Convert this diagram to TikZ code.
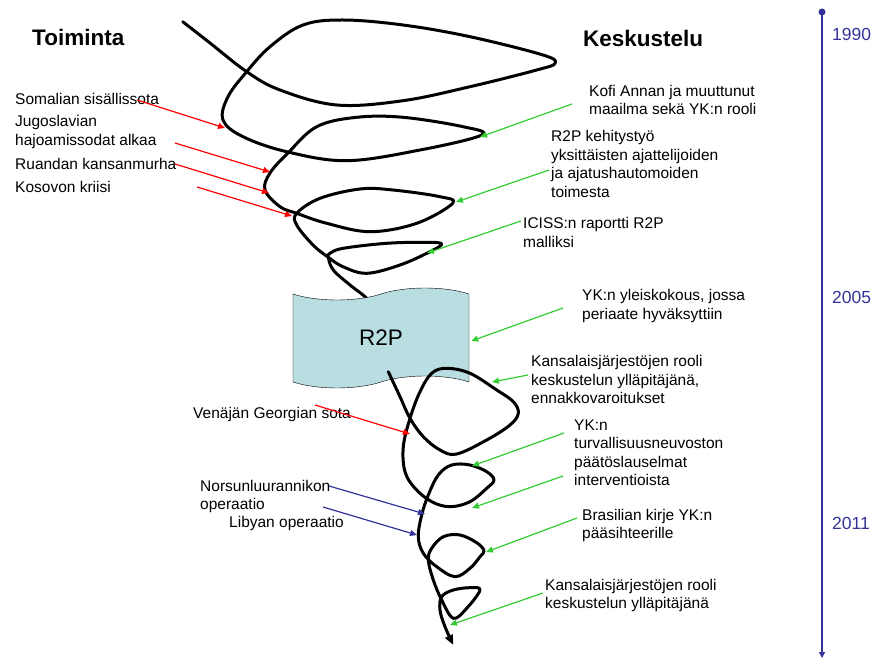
\documentclass[tikz,border=0pt]{standalone}
\usepackage{fontspec}
\setmainfont{Liberation Sans}
\usetikzlibrary{arrows.meta,shapes.symbols}
\definecolor{aikablue}{RGB}{51,51,153}
\definecolor{keskgreen}{RGB}{51,204,51}
\definecolor{r2pfill}{RGB}{184,222,226}

\begin{document}
\begin{tikzpicture}[x=1pt, y=-1pt]
    \tikzstyle{txt} = [anchor=base west, inner sep=0pt, align=left, font=\fontsize{15.5}{18.5}\selectfont]
    \tikzstyle{heading} = [anchor=base west, inner sep=0pt, font=\fontsize{22.5}{27}\selectfont\bfseries]
    \tikzstyle{year} = [anchor=base west, inner sep=0pt, text=aikablue, font=\fontsize{17.5}{21}\selectfont]
    \tikzstyle{redarrow} = [draw=red, line width=1.2pt, -{Triangle[length=7pt,width=6pt]}]
    \tikzstyle{bluearrow} = [draw=aikablue, line width=1.2pt, -{Triangle[length=7pt,width=6pt]}]
    \tikzstyle{greenarrow} = [draw=keskgreen, line width=1.2pt, -{Triangle[length=7pt,width=6pt]}]
    \tikzstyle{tornado} = [line width=3pt, line join=round, line cap=round]

    \useasboundingbox (0,0) rectangle (876,660);

    \node[heading] (toiminta) at (32,46) {Toiminta};
    \node[heading] (keskustelu) at (583,46.5) {Keskustelu};

    \node[txt] (somalia) at (15,104.5) {Somalian sisällissota};
    \node[txt] (jugoslavia) at (15,145.5) {Jugoslavian\\hajoamissodat alkaa};
    \node[txt] (ruanda) at (15,169.5) {Ruandan kansanmurha};
    \node[txt] (kosovo) at (15,192.5) {Kosovon kriisi};
    \node[txt] (georgia) at (193,418.5) {Venäjän Georgian sota};
    \node[txt] (norsu) at (200,509.5) {Norsunluurannikon\\operaatio};
    \node[txt] (libya) at (229,527.5) {Libyan operaatio};

    \node[txt] (kofi) at (589,115) {Kofi Annan ja muuttunut\\maailma sekä YK:n rooli};
    \node[txt] (kehitys) at (551,197.5) {R2P kehitystyö\\yksittäisten ajattelijoiden\\ja ajatushautomoiden\\toimesta};
    \node[txt] (iciss) at (523,247.5) {ICISS:n raportti R2P\\malliksi};
    \node[txt] (yleis) at (582,319.5) {YK:n yleiskokous, jossa\\periaate hyväksyttiin};
    \node[txt] (kansa) at (531,403.5) {Kansalaisjärjestöjen rooli\\keskustelun ylläpitäjänä,\\ennakkovaroitukset};
    \node[txt] (turva) at (574,485.5) {YK:n\\turvallisuusneuvoston\\päätöslauselmat\\interventioista};
    \node[txt] (brasilia) at (582,538.5) {Brasilian kirje YK:n\\pääsihteerille};
    \node[txt] (kansa2) at (545,608.5) {Kansalaisjärjestöjen rooli\\keskustelun ylläpitäjänä};

    \draw[tornado] plot[smooth, tension=0.6] coordinates {
        (182.7,21.7) (210,43) (246.7,71.7) (280,90) (336.7,105) (403,100.7)
        (470,86.7) (536.7,70) (555,63.3) (543,55) (470,36.7) (403,25) (343,20)
        (303,25) (270,46.7) (246.7,71.7) (228,96.7) (223,120) (243,136.7)
        (286.7,151.7) (346.7,160.7) (420,150) (481.7,135) (463,126.7)
        (403,117.3) (356.7,117.3) (316.7,126.7) (288,153) (270,173) (265,190)
        (280,206.7) (296.7,213.3) (326.7,223.3) (370,231.7) (416.7,223.3)
        (452.7,203.3) (440,196.7) (393,190) (360,189) (320,198.3) (296.7,213.3)
        (296.7,225) (313,245) (328.3,257.3) (343,266.7) (366.7,273.3) (400,265)
        (430,251.7) (441.7,244) (426.7,242.3) (386.7,243.3) (343.3,248.3)
        (330,253.3) (328.3,257.3) (333.3,270) (350,285) (366.7,298.3) (380,315)};

    \node[tape, draw, thin, fill=r2pfill, minimum width=176pt, minimum height=100pt,
          tape bend height=12pt, font=\fontsize{22.5}{27}\selectfont] (r2p) at (381,338) {R2P};

    \draw[tornado, -{Triangle[length=10pt,width=8pt]}] plot[smooth, tension=0.6] coordinates {
        (388.3,371.7) (400,396.7) (410,418.3) (423.3,436.7) (440,450) (456.7,454)
        (486.7,440) (510,425) (518.3,413.3) (513.3,401.7) (496.7,390) (470,373.3)
        (446.7,368.3) (431.7,373.3) (420,391.7) (410,418.3) (403.3,446.7)
        (405,471.7) (415,488.3) (431.7,501.7) (450,506.7) (470,501.7)
        (486.7,488.3) (494,480) (486.7,471.7) (470,465) (451.7,465) (438.3,475)
        (428.3,495) (421.7,515) (418.3,536.7) (423.3,553.3) (436.7,566.7)
        (455,576.7) (470,568.3) (480,556.7) (484,550.7) (476.7,542.7) (460,535)
        (443.3,536.7) (431.7,548.3) (428.3,560) (433.3,580) (441.7,600)
        (453.3,618.3) (466.7,608.3) (480,590) (470,587.7) (453.3,590)
        (441.7,596.7) (440,610) (445,626.7) (453.3,645)};

    \coordinate (r1s) at (137,100);   \coordinate (r1e) at (225,128);
    \coordinate (r2s) at (175,143);   \coordinate (r2e) at (270,172);
    \coordinate (r3s) at (175,164);   \coordinate (r3e) at (269,193);
    \coordinate (r4s) at (197,187);   \coordinate (r4e) at (292,216);
    \coordinate (r5s) at (315,405);   \coordinate (r5e) at (410,434);
    \coordinate (b1s) at (329,486);   \coordinate (b1e) at (425,514);
    \coordinate (b2s) at (323,507);   \coordinate (b2e) at (417,535);
    \coordinate (g1s) at (572,104);   \coordinate (g1e) at (480,137);
    \coordinate (g2s) at (549,170);   \coordinate (g2e) at (456,202);
    \coordinate (g3s) at (521,221);   \coordinate (g3e) at (427,253);
    \coordinate (g4s) at (563,308);
    \coordinate (g5s) at (528,375);   \coordinate (g5e) at (492,382);
    \coordinate (g6s) at (564,433);   \coordinate (g6e) at (472,466);
    \coordinate (g7s) at (563,476);   \coordinate (g7e) at (472,508);
    \coordinate (g8s) at (577,518);   \coordinate (g8e) at (486,552);
    \coordinate (g9s) at (543,593);   \coordinate (g9e) at (450,625);

    \draw[redarrow] (r1s) -- (r1e);
    \draw[redarrow] (r2s) -- (r2e);
    \draw[redarrow] (r3s) -- (r3e);
    \draw[redarrow] (r4s) -- (r4e);
    \draw[redarrow] (r5s) -- (r5e);
    \draw[bluearrow] (b1s) -- (b1e);
    \draw[bluearrow] (b2s) -- (b2e);
    \draw[greenarrow] (g1s) -- (g1e);
    \draw[greenarrow] (g2s) -- (g2e);
    \draw[greenarrow] (g3s) -- (g3e);
    \draw[greenarrow] (g4s) -- ([xshift=2pt,yshift=-3pt]r2p.east);
    \draw[greenarrow] (g5s) -- (g5e);
    \draw[greenarrow] (g6s) -- (g6e);
    \draw[greenarrow] (g7s) -- (g7e);
    \draw[greenarrow] (g8s) -- (g8e);
    \draw[greenarrow] (g9s) -- (g9e);

    \coordinate (aikatop) at (822,12);
    \coordinate (aikabot) at (822,658);
    \fill[aikablue] (aikatop) circle (3.5pt);
    \draw[aikablue, line width=1.5pt, -{Triangle[length=6pt,width=6pt]}] (aikatop) -- (aikabot);
    \node[year] (y1990) at (832,40.7) {1990};
    \node[year] (y2005) at (832,303.3) {2005};
    \node[year] (y2011) at (832,529.3) {2011};
\end{tikzpicture}
\end{document}
